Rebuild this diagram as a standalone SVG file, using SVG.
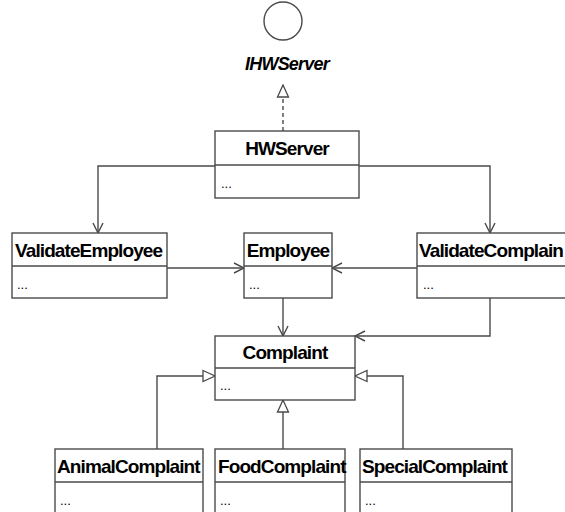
<svg xmlns="http://www.w3.org/2000/svg" width="565" height="512" viewBox="0 0 565 512">
  <style>
    .box { fill: #ffffff; stroke: #4a4a4a; stroke-width: 1.4; }
    .sep { stroke: #4a4a4a; stroke-width: 1.4; }
    .title { font-family: "Liberation Sans", Arial, sans-serif; font-weight: bold; font-size: 19px; fill: #000; letter-spacing: -0.9px; }
    .body { font-family: "Liberation Sans", Arial, sans-serif; font-size: 13px; fill: #000; }
    .iface { font-family: "Liberation Sans", Arial, sans-serif; font-weight: bold; font-style: italic; font-size: 18px; fill: #000; letter-spacing: -0.8px; }
    .edge { fill: none; stroke: #4a4a4a; stroke-width: 1.4; }
    .dashed { stroke-dasharray: 4 3; }
  </style>
  <defs>
    <marker id="open" markerWidth="12" markerHeight="12" refX="11" refY="6" orient="auto" markerUnits="userSpaceOnUse">
      <path d="M1,1 L11,6 L1,11" fill="none" stroke="#4a4a4a" stroke-width="1.4"/>
    </marker>
    <marker id="hollow" markerWidth="14" markerHeight="14" refX="13" refY="7" orient="auto" markerUnits="userSpaceOnUse">
      <path d="M1,1.5 L13,7 L1,12.5 Z" fill="#ffffff" stroke="#4a4a4a" stroke-width="1.3"/>
    </marker>
  </defs>

  <!-- interface lollipop -->
  <g id="IHWServer">
    <circle cx="283" cy="21" r="19" fill="#ffffff" stroke="#4a4a4a" stroke-width="1.4"/>
    <text class="iface" x="287" y="70" text-anchor="middle">IHWServer</text>
  </g>

  <!-- connectors -->
  <g id="connectors">
    <path class="edge dashed" d="M283,131 L283,85" marker-end="url(#hollow)"/>
    <path class="edge" d="M215,166 L98,166 L98,233" marker-end="url(#open)"/>
    <path class="edge" d="M359,166 L490,166 L490,233" marker-end="url(#open)"/>
    <path class="edge" d="M167,268 L244,268" marker-end="url(#open)"/>
    <path class="edge" d="M417,268 L332,268" marker-end="url(#open)"/>
    <path class="edge" d="M283,298 L283,336" marker-end="url(#open)"/>
    <path class="edge" d="M490,298 L490,336 L355,336" marker-end="url(#open)"/>
    <path class="edge" d="M157,449 L157,376 L215,376" marker-end="url(#hollow)"/>
    <path class="edge" d="M283,449 L283,400" marker-end="url(#hollow)"/>
    <path class="edge" d="M403,449 L403,376 L355,376" marker-end="url(#hollow)"/>
  </g>

  <g id="HWServer">
    <rect class="box" x="215" y="131" width="144" height="67"/>
    <line class="sep" x1="215" y1="165" x2="359" y2="165"/>
    <text class="title" x="287" y="155" text-anchor="middle">HWServer</text>
    <text class="body" x="221" y="188">...</text>
  </g>

  <g id="ValidateEmployee">
    <rect class="box" x="12" y="233" width="155" height="65"/>
    <line class="sep" x1="12" y1="266" x2="167" y2="266"/>
    <text class="title" x="15" y="257">ValidateEmployee</text>
    <text class="body" x="17" y="289">...</text>
  </g>

  <g id="Employee">
    <rect class="box" x="244" y="233" width="88" height="65"/>
    <line class="sep" x1="244" y1="266" x2="332" y2="266"/>
    <text class="title" x="288" y="257" text-anchor="middle">Employee</text>
    <text class="body" x="249" y="289">...</text>
  </g>

  <g id="ValidateComplaint">
    <rect class="box" x="417" y="233" width="152" height="65"/>
    <line class="sep" x1="417" y1="266" x2="569" y2="266"/>
    <text class="title" x="419" y="257">ValidateComplain</text>
    <text class="body" x="423" y="289">...</text>
  </g>

  <g id="Complaint">
    <rect class="box" x="215" y="336" width="140" height="64"/>
    <line class="sep" x1="215" y1="368" x2="355" y2="368"/>
    <text class="title" x="285" y="359" text-anchor="middle">Complaint</text>
    <text class="body" x="220" y="390">...</text>
  </g>

  <g id="AnimalComplaint">
    <rect class="box" x="55" y="449" width="148" height="70"/>
    <line class="sep" x1="55" y1="482" x2="203" y2="482"/>
    <text class="title" x="57" y="473">AnimalComplaint</text>
    <text class="body" x="60" y="505">...</text>
  </g>

  <g id="FoodComplaint">
    <rect class="box" x="215" y="449" width="130" height="70"/>
    <line class="sep" x1="215" y1="482" x2="345" y2="482"/>
    <text class="title" x="218" y="473">FoodComplaint</text>
    <text class="body" x="220" y="505">...</text>
  </g>

  <g id="SpecialComplaint">
    <rect class="box" x="360" y="449" width="152" height="70"/>
    <line class="sep" x1="360" y1="482" x2="512" y2="482"/>
    <text class="title" x="362" y="473">SpecialComplaint</text>
    <text class="body" x="365" y="505">...</text>
  </g>
</svg>
